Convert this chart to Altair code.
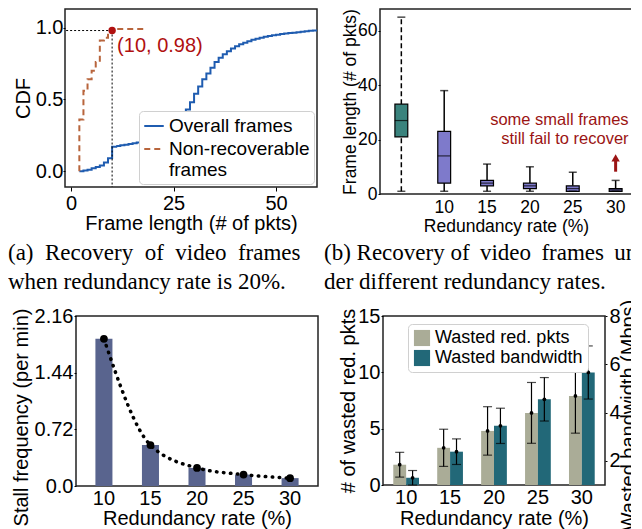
import altair as alt
import pandas as pd

FONT = "Liberation Sans"
SERIF = "Liberation Serif"

# ---------------- (a) CDF of frame length ----------------
all_len = list(range(2, 61))
all_cdf = [0.00, 0.005, 0.01, 0.02, 0.03, 0.04, 0.06, 0.09, 0.17, 0.175,
           0.18, 0.185, 0.19, 0.195, 0.20, 0.205, 0.21, 0.22, 0.23, 0.24,
           0.255, 0.27, 0.29, 0.31, 0.34, 0.38, 0.43, 0.48, 0.54, 0.59,
           0.64, 0.68, 0.72, 0.76, 0.79, 0.815, 0.835, 0.855, 0.87, 0.885,
           0.895, 0.905, 0.915, 0.922, 0.93, 0.936, 0.942, 0.947, 0.951, 0.955,
           0.959, 0.962, 0.965, 0.968, 0.972, 0.975, 0.978, 0.98, 0.983]
non_len = [2, 2, 3, 4, 5, 6, 7, 8, 9, 10, 11, 18]
non_cdf = [0.0, 0.36, 0.56, 0.64, 0.70, 0.76, 0.91, 0.93, 0.95, 0.98, 0.99, 1.0]
a_series = ["Overall frames", "Non-recoverable frames"]
pt_len = [10]
pt_cdf = [0.98]
pt_label = ["(10, 0.98)"]

# ---------------- (b) box plots ----------------
box_cats = ["Overall", "10", "15", "20", "25", "30"]
box_groups = ["Overall frames"] + ["Non-recoverable frames"] * 5
box_lo = [1, 1, 1, 1, 1, 1]
box_q1 = [21, 4, 3, 2, 1, 1]
box_med = [27, 14, 4, 3, 2, 1.5]
box_q3 = [33, 23, 5, 4, 3, 2]
box_hi = [65, 38, 11, 10, 8, 5]
b_series = ["Non-recoverable frames", "Overall frames"]
note_lines = ["some small frames", "still fail to recover"]

# ---------------- (c) stall frequency ----------------
rates = ["10", "15", "20", "25", "30"]
stall_freq = [1.87, 0.52, 0.23, 0.145, 0.10]

# ---------------- (d) wasted redundancy ----------------
d_series = ["Wasted red. pkts", "Wasted bandwidth"]
wasted_pkts = [1.8, 3.3, 4.8, 6.4, 7.9]
wasted_pkts_err = [1.1, 1.65, 2.15, 2.7, 3.3]
wasted_bw = [1.3, 2.38, 3.45, 4.55, 5.66]
wasted_bw_err = [0.3, 0.53, 0.73, 0.9, 1.1]

cap_a = ["(a)\u2002Recovery\u2002of\u2002video\u2002frames", "when redundancy rate is 20%."]
cap_b = ["(b) Recovery of\u2009 video\u2009 frames\u2009 un", "der different redundancy rates."]

blue = "#1f5cb0"
orange = "#b8653d"
red = "#b01010"
teal = "#3a837d"
purple = "#7e7acb"
slate = "#59648e"
hatch = "#aaac97"
dteal = "#226878"
darkred = "#9b1414"


def ax(fs, **kw):
    base = dict(labelFontSize=fs, titleFontSize=fs, labelFont=FONT, titleFont=FONT,
                labelColor="black", titleColor="black", titleFontWeight="normal",
                domain=False, grid=False, tickColor="black", tickSize=2,
                labelPadding=1, titleBaseline="alphabetic", labelOverlap=False)
    base.update(kw)
    return alt.Axis(**base)


def caption(lines, dx, offset):
    return alt.Title(text=lines, orient="bottom", anchor="start", frame="group", font=SERIF,
                     fontSize=23, fontWeight="normal", lineHeight=29, offset=offset,
                     color="black", dx=dx)


def box_legend(x, y, fs, size):
    return alt.Legend(title=None, orient="none", legendX=x, legendY=y, symbolType="square",
                      symbolSize=size, symbolStrokeWidth=0, labelFontSize=fs, labelFont=FONT,
                      labelColor="black", strokeColor="#d0d0d0", fillColor="white",
                      cornerRadius=4, padding=5, rowPadding=2, labelLimit=400)


# ======== panel A ========
dfA = pd.concat([
    pd.DataFrame({"len": all_len, "cdf": all_cdf, "series": a_series[0]}),
    pd.DataFrame({"len": non_len, "cdf": non_cdf, "series": a_series[1]}),
], ignore_index=True)
dfA["idx"] = range(len(dfA))
dfP = pd.DataFrame({"len": pt_len, "cdf": pt_cdf, "label": pt_label})

a_xdom = [-1.5, 60]
a_ydom = [-0.11, 1.13]
axA_x = ax(20, values=[0, 25, 50], title="Frame length (# of pkts)", tickSize=4, labelPadding=2,
           titleY=42, titleAngle=0)
axA_y = ax(20, values=[0, 0.5, 1.0], format=".1f", title="CDF", labelPadding=0, titleX=-36, titleAngle=270)


def xA(f):
    return alt.X(f, scale=alt.Scale(domain=a_xdom, nice=False, zero=False), axis=axA_x)


def yA(f):
    return alt.Y(f, scale=alt.Scale(domain=a_ydom, nice=False, zero=False), axis=axA_y)


legA = alt.Legend(title=None, orient="none", legendX=74, legendY=102,
                  symbolType="stroke", symbolSize=380, symbolStrokeWidth=2,
                  labelFontSize=19, labelFont=FONT, labelColor="black",
                  strokeColor="#d0d0d0", fillColor="white", cornerRadius=4,
                  padding=4, rowPadding=2, labelLimit=400,
                  labelExpr="datum.label == 'Non-recoverable frames' ? ['Non-recoverable', 'frames'] : datum.label")

linesA = alt.Chart(dfA).mark_line(interpolate="step-after", strokeWidth=2, clip=True).encode(
    x=xA("len:Q"), y=yA("cdf:Q"),
    color=alt.Color("series:N", scale=alt.Scale(domain=a_series, range=[blue, orange]), legend=legA),
    strokeDash=alt.StrokeDash("series:N", scale=alt.Scale(domain=a_series, range=[[1, 0], [6, 4]]), legend=legA),
    order="idx:Q",
)
hruleA = alt.Chart(dfP).mark_rule(color="black", strokeDash=[2, 2], strokeWidth=1).encode(
    x=xA("len:Q"), x2=alt.X2(datum=a_xdom[0]), y=yA("cdf:Q"))
vruleA = alt.Chart(dfP).mark_rule(color="black", strokeDash=[2, 2], strokeWidth=1).encode(
    x=xA("len:Q"), y=yA("cdf:Q"), y2=alt.Y2(datum=a_ydom[0]))
ptA = alt.Chart(dfP).mark_circle(size=55, color=red, opacity=1).encode(x=xA("len:Q"), y=yA("cdf:Q"))
txtA = alt.Chart(dfP).mark_text(align="left", baseline="middle", dx=5, dy=15, fontSize=20,
                                color=red, font=FONT).encode(x=xA("len:Q"), y=yA("cdf:Q"), text="label:N")

A = alt.layer(linesA, hruleA, vruleA, ptA, txtA).properties(
    width=252, height=178, title=caption(cap_a, -57, 9))

# ======== panel B ========
dfB = pd.DataFrame({"cat": box_cats, "group": box_groups, "lo": box_lo, "q1": box_q1,
                    "med": box_med, "q3": box_q3, "hi": box_hi})
dfB["style"] = dfB["group"]
axB_x = ax(17.5, title="Redundancy rate (%)", ticks=False, labelAngle=0, labelPadding=4, titleY=37.5,
           titleAngle=0, labelExpr="datum.value == 'Overall' ? '' : datum.value")
axB_y = ax(17.5, values=[0, 20, 40, 60], title="Frame length (# of pkts)", titleX=-25, titleAngle=270)
scB_x = alt.Scale(domain=box_cats, paddingInner=0.7, paddingOuter=0.29, align=0.6)
scB_y = alt.Scale(domain=[0, 68], nice=False, zero=False)


def xB():
    return alt.X("cat:N", sort=box_cats, scale=scB_x, axis=axB_x)


def yB(f):
    return alt.Y(f, scale=scB_y, axis=axB_y)


dashB = alt.StrokeDash("style:N", scale=alt.Scale(domain=b_series, range=[[1, 0], [5, 3]]), legend=None)
baseB = alt.Chart(dfB)
wlo = baseB.mark_rule(color="black", strokeWidth=1.5).encode(x=xB(), y=yB("lo:Q"), y2="q1", strokeDash=dashB)
whi = baseB.mark_rule(color="black", strokeWidth=1.5).encode(x=xB(), y=yB("q3:Q"), y2="hi", strokeDash=dashB)
boxB = baseB.mark_bar(stroke="black", strokeWidth=1.2).encode(
    x=xB(), y=yB("q1:Q"), y2="q3",
    color=alt.Color("group:N", scale=alt.Scale(domain=b_series, range=[purple, teal]),
                    legend=box_legend(41, 8, 16.5, 240)))
medB = baseB.mark_tick(color="black", thickness=1.2, size=13).encode(x=xB(), y=yB("med:Q"))
capLo = baseB.mark_tick(color="black", thickness=1.5, size=8).encode(x=xB(), y=yB("lo:Q"))
capHi = baseB.mark_tick(color="black", thickness=1.5, size=8).encode(x=xB(), y=yB("hi:Q"))

dfNote = pd.DataFrame({"cat": ["30"], "y": [30.0], "text": [note_lines]})
noteB = alt.Chart(dfNote).mark_text(align="right", baseline="top", dx=13, fontSize=16.5,
                                    color=darkred, font=FONT, lineHeight=19).encode(
    x=xB(), y=yB("y:Q"), text=alt.Text("text:N"))
dfArrow = pd.DataFrame({"cat": ["30"], "y0": [8.2], "y1": [12.4], "tip": [13.3]})
arrowB = alt.Chart(dfArrow).mark_rule(color=darkred, strokeWidth=3).encode(x=xB(), y=yB("y0:Q"), y2="y1")
headB = alt.Chart(dfArrow).mark_point(shape="triangle-up", filled=True, size=70, color=darkred,
                                      opacity=1).encode(x=xB(), y=yB("tip:Q"))

B = alt.layer(wlo, whi, boxB, medB, capLo, capHi, noteB, arrowB, headB).properties(
    width=252, height=185, title=caption(cap_b, -56, 7))

# ======== panel C ========
dfC = pd.DataFrame({"rate": rates, "stall": stall_freq})
axC_x = ax(20, title="Redundancy rate (%)", ticks=False, labelAngle=0, labelPadding=2, titleY=38, titleAngle=0)
axC_y = ax(20, values=[0, 0.72, 1.44, 2.16], title="Stall frequency (per min)", titleX=-49, titleY=101,
           titleAngle=270, labelExpr="datum.value == 0 ? '0.0' : format(datum.value, '.2f')")
xC = alt.X("rate:N", sort=rates, scale=alt.Scale(domain=rates, paddingInner=0.634, paddingOuter=0.417), axis=axC_x)
yC = alt.Y("stall:Q", scale=alt.Scale(domain=[0, 2.16], nice=False), axis=axC_y)
barsC = alt.Chart(dfC).mark_bar(color=slate).encode(x=xC, y=yC)
lineC = alt.Chart(dfC).mark_line(color="black", strokeDash=[0.5, 6.5], strokeWidth=3.5,
                                 strokeCap="round", interpolate="monotone").encode(x=xC, y=yC)
ptsC = alt.Chart(dfC).mark_circle(color="black", size=60, opacity=1).encode(x=xC, y=yC)
C = alt.layer(barsC, lineC, ptsC).properties(width=242, height=170)

# ======== panel D ========
dfR = pd.DataFrame({"rate": rates, "series": d_series[0], "v": wasted_pkts, "e": wasted_pkts_err})
dfW = pd.DataFrame({"rate": rates, "series": d_series[1], "v": wasted_bw, "e": wasted_bw_err})
for d in (dfR, dfW):
    d["lo"] = d["v"] - d["e"]
    d["hi"] = d["v"] + d["e"]

axD_x = ax(20, title="Redundancy rate (%)", ticks=False, labelAngle=0, labelPadding=2, titleY=39, titleAngle=0)
axD_l = ax(20, values=[0, 5, 10, 15], title="# of wasted red. pkts", orient="left", titleX=-29, titleAngle=270)
axD_r = ax(20, values=[2, 4, 6, 8], title="Wasted bandwidth (Mbps)", orient="right",
           labelPadding=2, titleX=29, titleY=99, titleAngle=270)
xD = alt.X("rate:N", sort=rates, scale=alt.Scale(domain=rates, paddingInner=0.414, paddingOuter=0.234), axis=axD_x)
xoD = alt.XOffset("series:N", scale=alt.Scale(domain=d_series, paddingInner=0, paddingOuter=0), sort=d_series)
colD = alt.Color("series:N", scale=alt.Scale(domain=d_series, range=[hatch, dteal]),
                 legend=box_legend(25, 8, 18, 260))


def d_layer(df, scale, axis):
    def y(f):
        return alt.Y(f, scale=scale, axis=axis)
    base = alt.Chart(df)
    bars = base.mark_bar(clip=True).encode(x=xD, xOffset=xoD, y=y("v:Q"), color=colD)
    err = base.mark_rule(color="black", strokeWidth=1.2).encode(x=xD, xOffset=xoD, y=y("lo:Q"), y2="hi")
    clo = base.mark_tick(color="black", thickness=1.2, size=9).encode(x=xD, xOffset=xoD, y=y("lo:Q"))
    chi = base.mark_tick(color="black", thickness=1.2, size=9).encode(x=xD, xOffset=xoD, y=y("hi:Q"))
    dot = base.mark_circle(color="black", size=14, opacity=1).encode(x=xD, xOffset=xoD, y=y("v:Q"))
    return alt.layer(bars, err, clo, chi, dot)


layR = d_layer(dfR, alt.Scale(domain=[0, 15], nice=False), axD_l)
layW = d_layer(dfW, alt.Scale(domain=[1, 8], nice=False, zero=False), axD_r)
D = alt.layer(layR, layW).resolve_scale(y="independent").properties(width=222, height=169)

# empty spacer view that shifts panel (c) right of panel (a)
spacer = alt.Chart(pd.DataFrame({"s": [0]})).mark_point(opacity=0).encode(
    x=alt.X("s:Q", axis=None), y=alt.Y("s:Q", axis=None)
).properties(width=11, height=10, view=alt.ViewBackground(stroke="transparent"))

indep = dict(color="independent", strokeDash="independent")
top = alt.hconcat(A, B, spacing=63, bounds="flush").resolve_scale(**indep)
left_bottom = alt.hconcat(spacer, C, spacing=0, bounds="flush").resolve_scale(**indep)
# nested concat groups count as zero-size in a flush layout, so spacing is origin-to-origin
bottom = alt.hconcat(left_bottom, D, spacing=318, bounds="flush").resolve_scale(**indep)

chart = alt.vconcat(top, bottom, spacing=307, bounds="flush").resolve_scale(**indep).properties(
    padding={"left": -1, "top": -1, "right": -8, "bottom": 0}
).configure_view(stroke="#222222", strokeWidth=1.5)

chart.save("out.html", embed_options={"renderer": "svg", "actions": False})
